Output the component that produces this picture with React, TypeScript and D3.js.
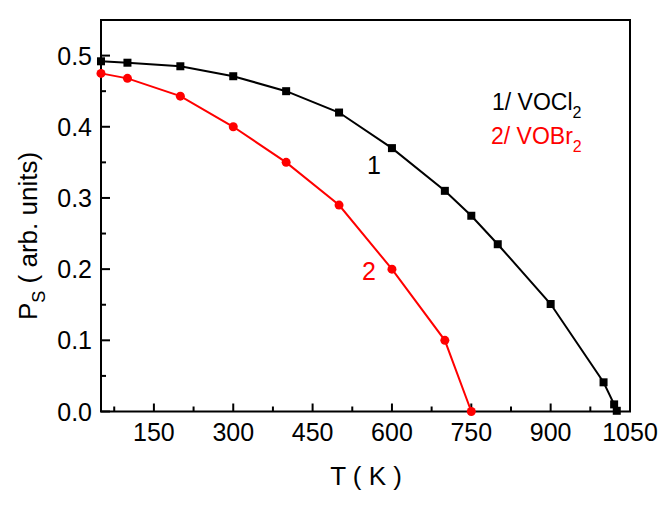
import React, { useEffect, useRef } from 'react';
import * as d3 from 'd3';

// VOCl2 polarization vs temperature (curve 1)
const tempCl = [50, 100, 200, 300, 400, 500, 600, 700, 750, 800, 900, 1000, 1020, 1025];
const psCl = [0.492, 0.49, 0.485, 0.471, 0.45, 0.42, 0.37, 0.31, 0.275, 0.235, 0.151, 0.041, 0.01, 0.001];

// VOBr2 polarization vs temperature (curve 2)
const tempBr = [50, 100, 200, 300, 400, 500, 600, 700, 750];
const psBr = [0.475, 0.468, 0.443, 0.4, 0.35, 0.29, 0.2, 0.1, 0.0];

const xTicks = [150, 300, 450, 600, 750, 900, 1050];
const yTicks = [0.0, 0.1, 0.2, 0.3, 0.4, 0.5];

const FONT = '"Liberation Sans", Arial, sans-serif';

const App = () => {
  const ref = useRef<SVGSVGElement>(null);

  useEffect(() => {
    const svg = d3.select(ref.current);
    svg.selectAll('*').remove();

    const left = 101, right = 630, top = 20, bottom = 411.5;
    const x = d3.scaleLinear().domain([50, 1050]).range([left, right]);
    const y = d3.scaleLinear().domain([0, 0.55]).range([bottom, top]);

    // frame
    svg.append('rect')
      .attr('x', left).attr('y', top)
      .attr('width', right - left).attr('height', bottom - top)
      .attr('fill', 'none').attr('stroke', '#000').attr('stroke-width', 2);

    // x ticks (inward), major + minor
    const xMinor = d3.range(75, 1050, 150);
    const gx = svg.append('g');
    gx.selectAll('line.maj').data(xTicks).enter().append('line')
      .attr('x1', d => x(d)).attr('x2', d => x(d))
      .attr('y1', bottom).attr('y2', bottom - 8)
      .attr('stroke', '#000').attr('stroke-width', 2);
    gx.selectAll('line.min').data(xMinor).enter().append('line')
      .attr('x1', d => x(d)).attr('x2', d => x(d))
      .attr('y1', bottom).attr('y2', bottom - 5)
      .attr('stroke', '#000').attr('stroke-width', 2);
    gx.selectAll('text').data(xTicks).enter().append('text')
      .attr('x', d => x(d)).attr('y', 441)
      .attr('text-anchor', 'middle')
      .attr('font-family', FONT).attr('font-size', 25)
      .text(d => d);

    // y ticks
    const yMinor = [0.05, 0.15, 0.25, 0.35, 0.45];
    const gy = svg.append('g');
    gy.selectAll('line.maj').data(yTicks).enter().append('line')
      .attr('x1', left).attr('x2', left + 9)
      .attr('y1', d => y(d)).attr('y2', d => y(d))
      .attr('stroke', '#000').attr('stroke-width', 2);
    gy.selectAll('line.min').data(yMinor).enter().append('line')
      .attr('x1', left).attr('x2', left + 5)
      .attr('y1', d => y(d)).attr('y2', d => y(d))
      .attr('stroke', '#000').attr('stroke-width', 2);
    gy.selectAll('text').data(yTicks).enter().append('text')
      .attr('x', 92).attr('y', d => y(d) + 9)
      .attr('text-anchor', 'end')
      .attr('font-family', FONT).attr('font-size', 25)
      .text(d => d3.format('.1f')(d));

    // axis titles
    svg.append('text')
      .attr('x', 366).attr('y', 485)
      .attr('text-anchor', 'middle')
      .attr('font-family', FONT).attr('font-size', 26)
      .attr('xml:space', 'preserve')
      .text('T ( K )');

    const yt = svg.append('text')
      .attr('transform', 'translate(37,236) rotate(-90)')
      .attr('text-anchor', 'middle')
      .attr('font-family', FONT).attr('font-size', 26);
    yt.append('tspan').text('P');
    yt.append('tspan').attr('dy', 8).attr('font-size', 18).text('S');
    yt.append('tspan').attr('dy', -8).text(' ( arb. units)');

    const line = d3.line<[number, number]>().x(d => x(d[0])).y(d => y(d[1]));

    const cl = tempCl.map((t, i) => [t, psCl[i]] as [number, number]);
    const br = tempBr.map((t, i) => [t, psBr[i]] as [number, number]);

    svg.append('path').datum(cl).attr('d', line)
      .attr('fill', 'none').attr('stroke', '#000').attr('stroke-width', 2);
    svg.append('path').datum(br).attr('d', line)
      .attr('fill', 'none').attr('stroke', '#ff0000').attr('stroke-width', 2);

    const s = 8;
    svg.append('g').selectAll('rect').data(cl).enter().append('rect')
      .attr('x', d => x(d[0]) - s / 2).attr('y', d => y(d[1]) - s / 2)
      .attr('width', s).attr('height', s).attr('fill', '#000');
    svg.append('g').selectAll('circle').data(br).enter().append('circle')
      .attr('cx', d => x(d[0])).attr('cy', d => y(d[1]))
      .attr('r', 4.5).attr('fill', '#ff0000');

    // curve labels
    svg.append('text').attr('x', 367).attr('y', 174)
      .attr('font-family', FONT).attr('font-size', 25).text('1');
    svg.append('text').attr('x', 362).attr('y', 280)
      .attr('fill', '#ff0000')
      .attr('font-family', FONT).attr('font-size', 25).text('2');

    // legend
    const l1 = svg.append('text').attr('x', 492).attr('y', 110)
      .attr('font-family', FONT).attr('font-size', 23);
    l1.append('tspan').text('1/ VOCl');
    l1.append('tspan').attr('dy', 8).attr('font-size', 16).text('2');
    const l2 = svg.append('text').attr('x', 491).attr('y', 144)
      .attr('fill', '#ff0000')
      .attr('font-family', FONT).attr('font-size', 23);
    l2.append('tspan').text('2/ VOBr');
    l2.append('tspan').attr('dy', 8).attr('font-size', 16).text('2');
  }, []);

  return (
    <svg ref={ref} width={670} height={507}
      style={{ position: 'absolute', left: 0, top: 0, background: '#fff' }} />
  );
};

export default App;
